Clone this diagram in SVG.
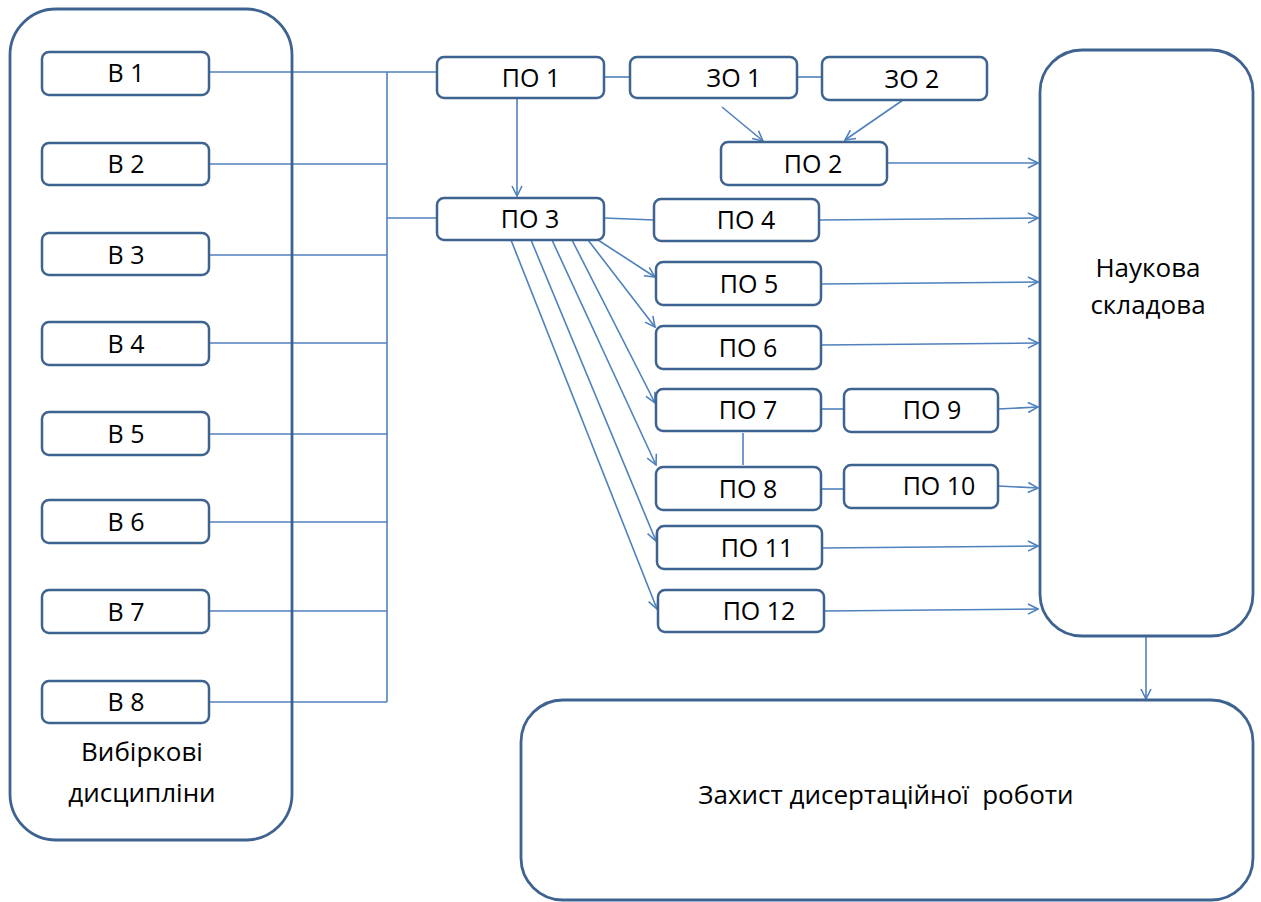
<svg xmlns="http://www.w3.org/2000/svg" width="1261" height="902" viewBox="0 0 1261 902">
<defs>
<style>
.box{fill:#fff;stroke:#3f6390;stroke-width:2.5}
.big{fill:none;stroke:#3f6390;stroke-width:2.8}
.ln{fill:none;stroke:#4f81bd;stroke-width:1.6}
.t{font-family:"Open Sans","Liberation Sans",sans-serif;font-size:25px;fill:#000;text-anchor:middle}
.tb{font-family:"Open Sans","Liberation Sans",sans-serif;font-size:26px;fill:#000;text-anchor:middle}
</style>
<marker id="ar" viewBox="0 0 12 12" refX="11" refY="6" markerWidth="12" markerHeight="12" markerUnits="userSpaceOnUse" orient="auto">
<path d="M1,1 L11,6 L1,11" fill="none" stroke="#4f81bd" stroke-width="1.6"/>
</marker>
</defs>
<rect width="1261" height="902" fill="#fff"/>

<g id="connectors">
<line class="ln" x1="209" y1="72" x2="437" y2="72"/>
<line class="ln" x1="209" y1="164" x2="387" y2="164"/>
<line class="ln" x1="209" y1="255" x2="387" y2="255"/>
<line class="ln" x1="209" y1="343" x2="387" y2="343"/>
<line class="ln" x1="209" y1="434" x2="387" y2="434"/>
<line class="ln" x1="209" y1="522" x2="387" y2="522"/>
<line class="ln" x1="209" y1="611" x2="387" y2="611"/>
<line class="ln" x1="209" y1="702" x2="387" y2="702"/>
<line class="ln" x1="387" y1="72" x2="387" y2="702"/>
<line class="ln" x1="387" y1="218" x2="437" y2="218"/>
<line class="ln" x1="604" y1="77" x2="630" y2="77"/>
<line class="ln" x1="797" y1="77" x2="822" y2="77"/>
<line class="ln" x1="517" y1="98" x2="517" y2="196" marker-end="url(#ar)"/>
<line class="ln" x1="722" y1="107" x2="763" y2="141" marker-end="url(#ar)"/>
<line class="ln" x1="903" y1="100" x2="845" y2="140" marker-end="url(#ar)"/>
<line class="ln" x1="887" y1="163" x2="1038" y2="163" marker-end="url(#ar)"/>
<line class="ln" x1="604" y1="218" x2="654" y2="220"/>
<line class="ln" x1="819" y1="220" x2="1038" y2="218" marker-end="url(#ar)"/>
<line class="ln" x1="598" y1="240" x2="655" y2="277" marker-end="url(#ar)"/>
<line class="ln" x1="588" y1="240" x2="655" y2="327" marker-end="url(#ar)"/>
<line class="ln" x1="572" y1="240" x2="655" y2="403" marker-end="url(#ar)"/>
<line class="ln" x1="552" y1="240" x2="656" y2="465" marker-end="url(#ar)"/>
<line class="ln" x1="531" y1="240" x2="656" y2="541" marker-end="url(#ar)"/>
<line class="ln" x1="511" y1="240" x2="657" y2="609" marker-end="url(#ar)"/>
<line class="ln" x1="821" y1="284" x2="1038" y2="282" marker-end="url(#ar)"/>
<line class="ln" x1="821" y1="345" x2="1038" y2="343" marker-end="url(#ar)"/>
<line class="ln" x1="821" y1="409" x2="844" y2="409"/>
<line class="ln" x1="821" y1="489" x2="844" y2="489"/>
<line class="ln" x1="743" y1="433" x2="743" y2="465"/>
<line class="ln" x1="998" y1="409" x2="1038" y2="407" marker-end="url(#ar)"/>
<line class="ln" x1="998" y1="486" x2="1038" y2="488" marker-end="url(#ar)"/>
<line class="ln" x1="822" y1="548" x2="1038" y2="546" marker-end="url(#ar)"/>
<line class="ln" x1="824" y1="611" x2="1038" y2="609" marker-end="url(#ar)"/>
<line class="ln" x1="1146" y1="636" x2="1146" y2="699" marker-end="url(#ar)"/>
</g>

<g id="electives">
<rect class="big" x="10" y="9" width="282" height="831" rx="46"/>
<text class="tb" x="142" y="761">Вибіркові</text>
<text class="tb" x="142" y="802">дисципліни</text>
</g>
<g id="v1"><rect class="box" x="42" y="52" width="167" height="43" rx="7"/><text class="t" x="126" y="82">В 1</text></g>
<g id="v2"><rect class="box" x="42" y="143" width="167" height="42" rx="7"/><text class="t" x="126" y="173">В 2</text></g>
<g id="v3"><rect class="box" x="42" y="233" width="167" height="42" rx="7"/><text class="t" x="126" y="264">В 3</text></g>
<g id="v4"><rect class="box" x="42" y="322" width="167" height="43" rx="7"/><text class="t" x="126" y="353">В 4</text></g>
<g id="v5"><rect class="box" x="42" y="412" width="167" height="43" rx="7"/><text class="t" x="126" y="443">В 5</text></g>
<g id="v6"><rect class="box" x="42" y="500" width="167" height="43" rx="7"/><text class="t" x="126" y="531">В 6</text></g>
<g id="v7"><rect class="box" x="42" y="590" width="167" height="43" rx="7"/><text class="t" x="126" y="621">В 7</text></g>
<g id="v8"><rect class="box" x="42" y="681" width="167" height="42" rx="7"/><text class="t" x="126" y="711">В 8</text></g>

<g id="po1"><rect class="box" x="437" y="57" width="167" height="41" rx="7"/><text class="t" x="531" y="87">ПО 1</text></g>
<g id="zo1"><rect class="box" x="630" y="57" width="167" height="41" rx="7"/><text class="t" x="734" y="87">ЗО 1</text></g>
<g id="zo2"><rect class="box" x="822" y="57" width="165" height="43" rx="7"/><text class="t" x="912" y="88">ЗО 2</text></g>
<g id="po2"><rect class="box" x="721" y="142" width="166" height="43" rx="7"/><text class="t" x="813" y="173">ПО 2</text></g>
<g id="po3"><rect class="box" x="437" y="198" width="167" height="42" rx="7"/><text class="t" x="530" y="228">ПО 3</text></g>
<g id="po4"><rect class="box" x="654" y="199" width="165" height="42" rx="7"/><text class="t" x="746" y="229">ПО 4</text></g>
<g id="po5"><rect class="box" x="656" y="262" width="165" height="43" rx="7"/><text class="t" x="749" y="293">ПО 5</text></g>
<g id="po6"><rect class="box" x="656" y="326" width="165" height="43" rx="7"/><text class="t" x="748" y="357">ПО 6</text></g>
<g id="po7"><rect class="box" x="656" y="389" width="165" height="42" rx="7"/><text class="t" x="748" y="419">ПО 7</text></g>
<g id="po8"><rect class="box" x="656" y="467" width="165" height="43" rx="7"/><text class="t" x="748" y="498">ПО 8</text></g>
<g id="po9"><rect class="box" x="844" y="389" width="154" height="43" rx="7"/><text class="t" x="932" y="419">ПО 9</text></g>
<g id="po10"><rect class="box" x="844" y="465" width="154" height="43" rx="7"/><text class="t" x="939" y="495">ПО 10</text></g>
<g id="po11"><rect class="box" x="657" y="526" width="165" height="43" rx="7"/><text class="t" x="757" y="557">ПО 11</text></g>
<g id="po12"><rect class="box" x="658" y="590" width="166" height="42" rx="7"/><text class="t" x="759" y="620">ПО 12</text></g>

<g id="naukova">
<rect class="big" x="1040" y="50" width="213" height="586" rx="42"/>
<text class="tb" x="1148" y="277">Наукова</text>
<text class="tb" x="1148" y="314">складова</text>
</g>
<g id="zakhyst">
<rect class="big" x="521" y="700" width="732" height="200" rx="42"/>
<text class="tb" x="886" y="804" xml:space="preserve">Захист дисертаційної  роботи</text>
</g>
</svg>
